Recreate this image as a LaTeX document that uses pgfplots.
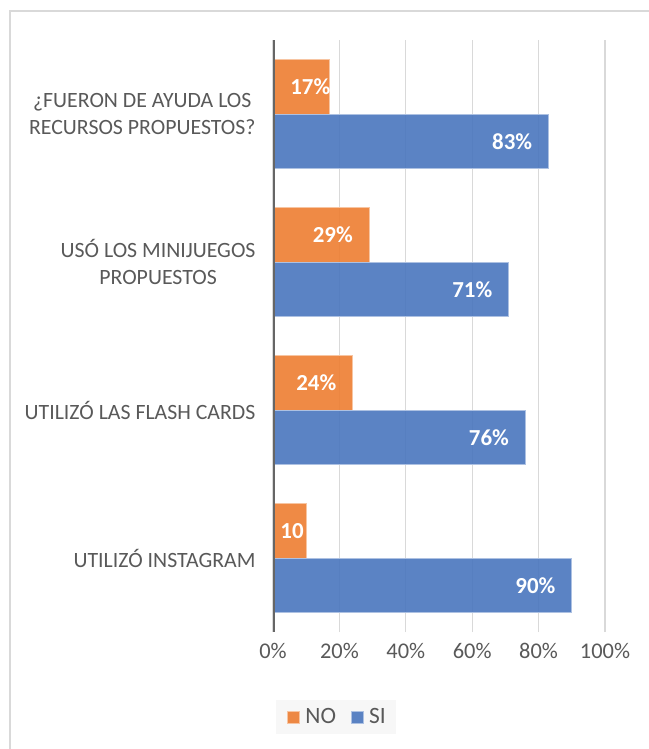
\documentclass[border=0pt]{standalone}
\usepackage{pgfplots}
\pgfplotsset{compat=1.18}
\usepackage{fontspec}
\setmainfont{Carlito}
\definecolor{barblue}{RGB}{73,118,190}
\definecolor{barorange}{RGB}{237,125,49}
\definecolor{txtgray}{RGB}{89,89,89}
\definecolor{gridgray}{RGB}{217,217,217}
\begin{document}
\begin{tikzpicture}
\path[use as bounding box] (0,0) rectangle (649bp,-749bp);
\clip (0,0) rectangle (649bp,-749bp);
\draw[gridgray, line width=1.2bp] (10bp,-11bp) rectangle (700bp,-800bp);
\begin{axis}[
 at={(273bp,-632bp)}, anchor=south west,
 width=332bp, height=592bp, scale only axis,
 xmin=0, xmax=100, ymin=-0.5, ymax=3.5,
 xtick={0,20,...,100},
 xticklabel={\pgfmathprintnumber{\tick}\%},
 ytick={0,1,2,3},
 yticklabels={UTILIZÓ INSTAGRAM, UTILIZÓ LAS FLASH CARDS, {USÓ LOS MINIJUEGOS\\PROPUESTOS}, {¿FUERON DE AYUDA LOS\\RECURSOS PROPUESTOS?}},
 yticklabel style={align=center, font=\fontsize{21.9}{26.5}\selectfont, text=txtgray, xshift=-14bp},
 xticklabel style={font=\fontsize{22.5}{26}\selectfont, text=txtgray, yshift=-8bp},
 /pgf/number format/assume math mode=true,
 major tick length=0,
 axis line style={draw=none},
 xmajorgrids, grid style={gridgray, line width=1.3bp},
 legend style={at={(axis description cs:0.19,-0.1436)}, anchor=center, fill=black!3, draw=none,
   font=\fontsize{23.5}{27}\selectfont, text=txtgray, inner xsep=8bp, inner ysep=7bp,
   /tikz/every even column/.append style={column sep=10bp}},
 legend columns=2,
 legend image code/.code={\draw[#1] (3bp,-6bp) rectangle (15bp,6bp); \path[draw=none,fill=none] (0bp,0bp) -- (19bp,0bp);},
]
\addplot[xbar, bar width=0.368, bar shift=0.184, fill=barorange, fill opacity=0.9, draw=barorange!45!white, line width=0.8bp]
 coordinates {(10,0) (24,1) (29,2) (17,3)};
\addlegendentry{NO}
\addplot[xbar, bar width=0.368, bar shift=-0.184, fill=barblue, fill opacity=0.9, draw=barblue!45!white, line width=0.8bp]
 coordinates {(90,0) (76,1) (71,2) (83,3)};
\addlegendentry{SI}
\addplot[only marks, mark=none, forget plot, nodes near coords, point meta=explicit symbolic,
  nodes near coords style={anchor=east, text=white, inner sep=0pt, font=\bfseries\fontsize{23}{26}\selectfont}]
 coordinates {(9.3,0.184) [10] (19.1,1.184) [24\%] (24.1,2.184) [29\%] (17.3,3.184) [17\%]
   (85.1,-0.184) [90\%] (71.1,0.816) [76\%] (66.1,1.816) [71\%] (78.1,2.816) [83\%]};
\draw[black!60, line width=3bp] (rel axis cs:0,0) -- (rel axis cs:0,1);
\end{axis}
\end{tikzpicture}
\end{document}
